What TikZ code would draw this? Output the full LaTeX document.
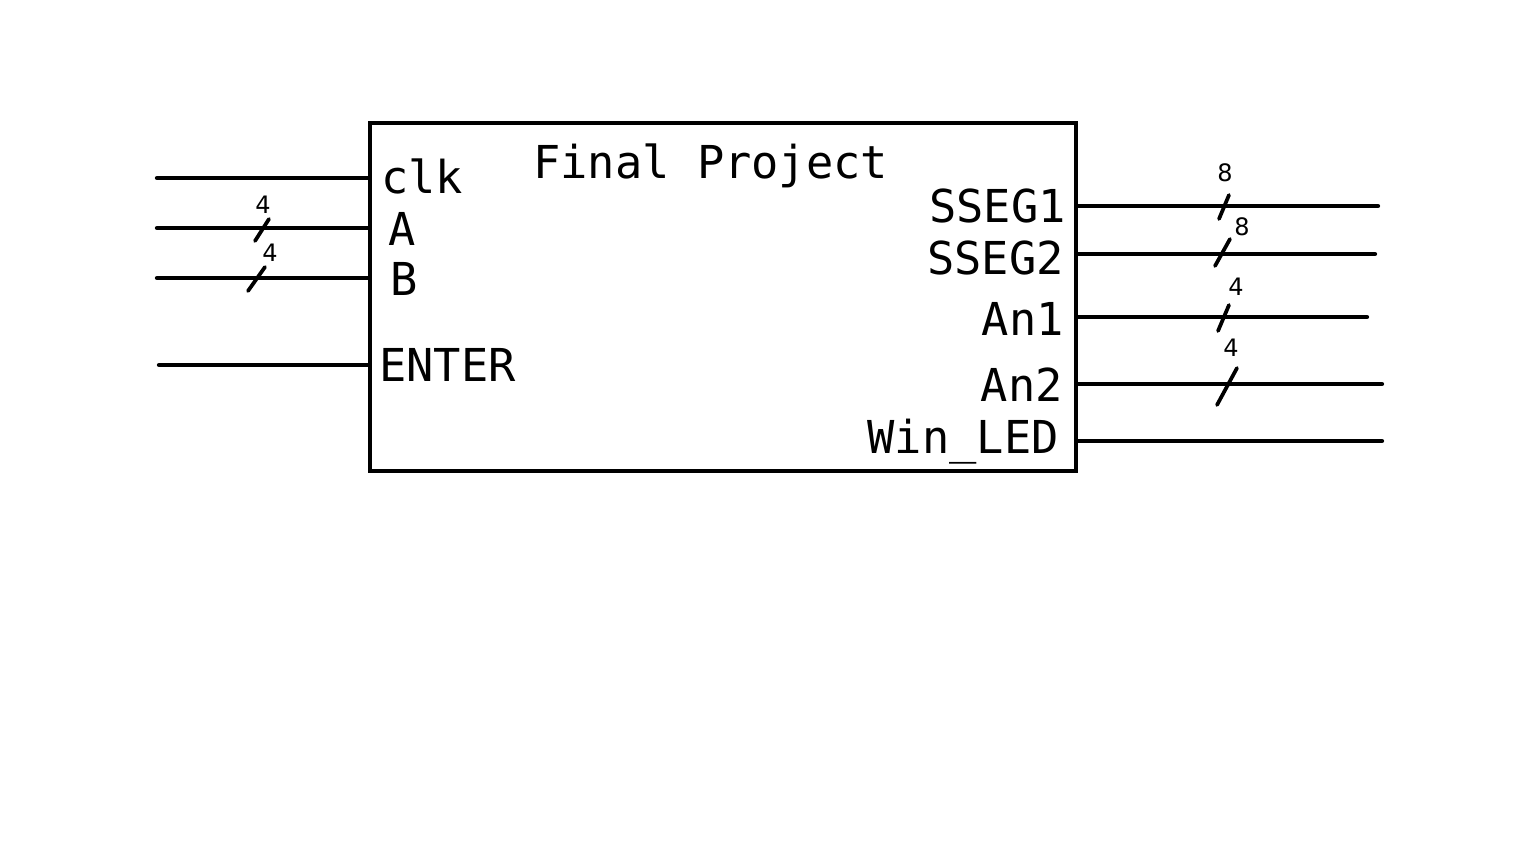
\documentclass[tikz,border=0pt]{standalone}
\usepackage{fontspec}
\newfontfamily\monofnt{DejaVu Sans Mono}
\newfontfamily\smallfnt{DejaVu Sans}
\begin{document}
\begin{tikzpicture}[x=0.75pt,y=-0.75pt,
  wire/.style={line width=3.2pt,line cap=round},
  busmark/.style={line width=2.8pt,line cap=round},
  lbl/.style={inner sep=0pt,font=\monofnt\fontsize{34}{34}\selectfont},
  width/.style={inner sep=0pt,font=\smallfnt\fontsize{18}{18}\selectfont},
  blockbox/.style={draw,line width=3.2pt,minimum width=529.5pt,minimum height=261pt,inner sep=0pt}]
\useasboundingbox (0,0) rectangle (1536,864);
\node[blockbox] (box) at (723,297) {};
% title
\node[lbl,anchor=base west] (title) at (533,178) {Final Project};
% left labels
\node[lbl,anchor=base west] (lclk) at (381,193) {clk};
\node[lbl,anchor=base west] (lA) at (388,245) {A};
\node[lbl,anchor=base west] (lB) at (390,295) {B};
\node[lbl,anchor=base west] (lenter) at (379,381) {ENTER};
% right labels
\node[lbl,anchor=base east] (ls1) at (1066,222) {SSEG1};
\node[lbl,anchor=base east] (ls2) at (1064,274) {SSEG2};
\node[lbl,anchor=base east] (la1) at (1064,335) {An1};
\node[lbl,anchor=base east] (la2) at (1063,401) {An2};
\node[lbl,anchor=base east] (lwin) at (1059,453) {Win\_LED};
% wire ends
\coordinate (inclk) at (157,178);
\coordinate (inA) at (157,228);
\coordinate (inB) at (157,278);
\coordinate (inE) at (159,365);
\coordinate (outS1) at (1378,206);
\coordinate (outS2) at (1375,254);
\coordinate (outA1) at (1367,317);
\coordinate (outA2) at (1382,384);
\coordinate (outW) at (1382,441);
% wires
\draw[wire] (inclk) -- (box.west |- inclk);
\draw[wire] (inA) -- (box.west |- inA);
\draw[wire] (inB) -- (box.west |- inB);
\draw[wire] (inE) -- (box.west |- inE);
\draw[wire] (box.east |- outS1) -- (outS1);
\draw[wire] (box.east |- outS2) -- (outS2);
\draw[wire] (box.east |- outA1) -- (outA1);
\draw[wire] (box.east |- outA2) -- (outA2);
\draw[wire] (box.east |- outW) -- (outW);
% bus marks
\draw[busmark] (255,241) -- (269,219);
\node[width,anchor=south] (wA) at (263,214) {4};
\draw[busmark] (248,291) -- (265,267);
\node[width,anchor=south] (wB) at (270,262) {4};
\draw[busmark] (1219,219) -- (1229,195);
\node[width,anchor=south] (wS1) at (1225,182) {8};
\draw[busmark] (1215,266) -- (1230,239);
\node[width,anchor=south] (wS2) at (1242,236) {8};
\draw[busmark] (1218,331) -- (1229,305);
\node[width,anchor=south] (wA1) at (1236,296) {4};
\draw[busmark] (1217,405) -- (1237,368);
\node[width,anchor=south] (wA2) at (1231,357) {4};
\end{tikzpicture}
\end{document}
